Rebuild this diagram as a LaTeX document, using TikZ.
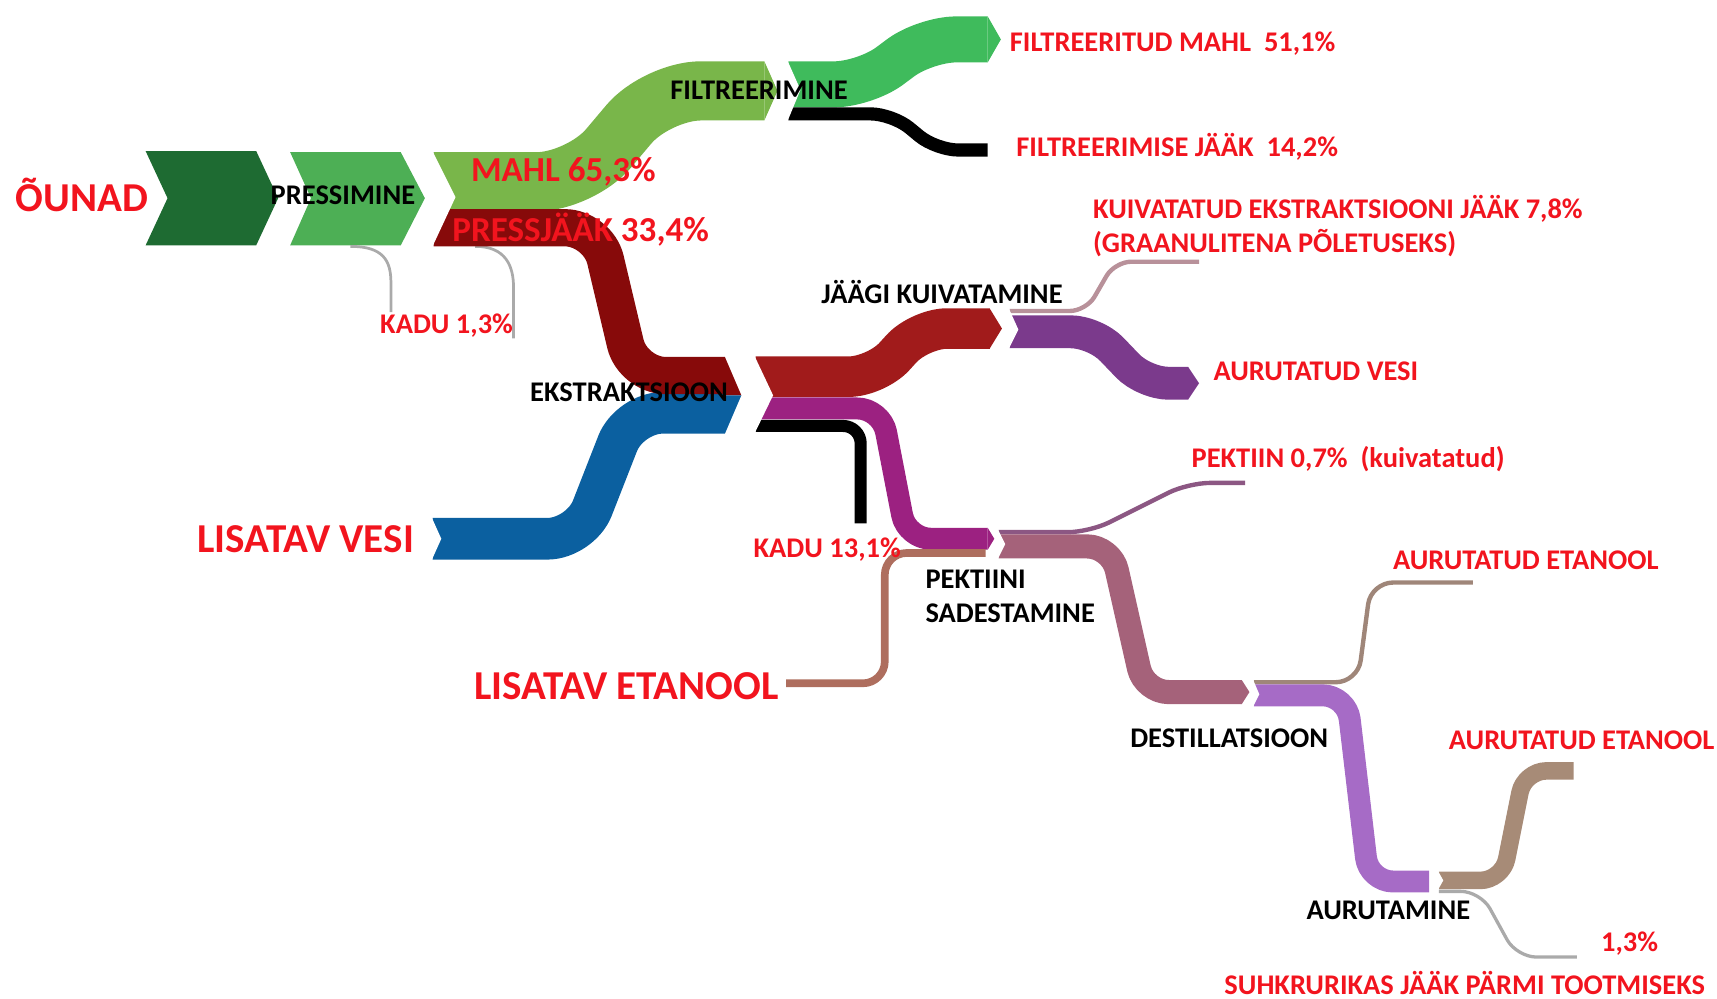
\documentclass[tikz,border=0pt]{standalone}
\usepackage{fontspec}
\setmainfont{Carlito}
\usetikzlibrary{positioning}

\definecolor{cApple}{HTML}{1E6B32}
\definecolor{cPress}{HTML}{4DAF55}
\definecolor{cJuice}{HTML}{79B64A}
\definecolor{cFiltered}{HTML}{3FBB5C}
\definecolor{cPomace}{HTML}{870A0A}
\definecolor{cWater}{HTML}{0B60A0}
\definecolor{cDry}{HTML}{A11B1B}
\definecolor{cVapour}{HTML}{7B3A8C}
\definecolor{cResidue}{HTML}{B8919A}
\definecolor{cPectin}{HTML}{9C2181}
\definecolor{cPectinLine}{HTML}{8C5783}
\definecolor{cSediment}{HTML}{A5627A}
\definecolor{cEthanol}{HTML}{AE6E5E}
\definecolor{cDistil}{HTML}{A66BC6}
\definecolor{cEvapLine}{HTML}{9F8679}
\definecolor{cTan}{HTML}{A78B77}
\definecolor{cGrey}{HTML}{AAAAAA}
\definecolor{txtred}{HTML}{F2141E}

\tikzset{
  flow/.style={line width=#1, line cap=butt, line join=round},
  thinline/.style={draw=cGrey, line width=2.5pt},
  steplbl/.style={font=\bfseries\fontsize{26}{31}\selectfont, text=black, inner sep=0pt, anchor=west},
  outlbl/.style={font=\bfseries\fontsize{26}{31}\selectfont, text=txtred, inner sep=0pt, anchor=west},
  midlbl/.style={font=\bfseries\fontsize{32}{36}\selectfont, text=txtred, inner sep=0pt, anchor=west},
  biglbl/.style={font=\bfseries\fontsize{37.5}{42}\selectfont, text=txtred, inner sep=0pt, anchor=west},
}

\begin{document}
\begin{tikzpicture}[x=1pt,y=-1pt]
\useasboundingbox (0,0) rectangle (1568,912);

% apples and pressing
\fill[cApple] (133,138) -- (234,138) -- (254,181) -- (234,224) -- (133,224) -- (153,181) -- cycle;
\fill[cPress] (265,139) -- (366,139) -- (388,181) -- (366,224) -- (265,224) -- (284,181) -- cycle;
\draw[thinline] (320,225) .. controls (350,225) and (357,238) .. (357,258) -- (357,285);
\draw[thinline] (434,225) .. controls (462,225) and (469,243) .. (469,263) -- (469,309);

% juice, filtering
\draw[flow=54, cJuice, rounded corners=40] (396,166) -- (530,166) -- (600,83) -- (698,83);
\fill[cJuice] (698,56) -- (710,83) -- (698,110) -- cycle;
\draw[flow=42, cFiltered, rounded corners=28] (720,77) -- (790,77) -- (845,36) -- (902,36);
\fill[cFiltered] (902,15) -- (914,36) -- (902,57) -- cycle;
\draw[flow=12, black, rounded corners=20] (720,104) -- (815,104) -- (855,137) -- (902,137);
\fill[white] (719,55) -- (731,82) -- (719,111) -- cycle;

% pomace and water into extraction
\draw[flow=38, cWater, rounded corners=30] (395,492) -- (530,492) -- (575,377) -- (662,377);
\draw[flow=34, cPomace, rounded corners=30] (396,208) -- (546,208) -- (578,343) -- (662,343);
\fill[cPomace] (662,326) -- (677,361) -- (662,361) -- cycle;
\fill[cWater] (662,361) -- (677,361) -- (662,396) -- cycle;
\fill[white] (395,138) -- (416,180) -- (395,225) -- cycle;
\fill[white] (394,472) -- (403,492) -- (394,512) -- cycle;

% extraction outputs
\draw[flow=37, cDry, rounded corners=25] (690,344) -- (800,344) -- (840,300) -- (904,300);
\fill[cDry] (904,282) -- (915,300) -- (904,318) -- cycle;
\draw[flow=20, cPectin, rounded corners=22] (690,373) -- (805,373) -- (828,492) -- (902,492);
\fill[cPectin] (902,482) -- (908,492) -- (902,502) -- cycle;
\draw[flow=11, black, rounded corners=16] (690,389) -- (786,389) -- (786,478);
\fill[white] (689,325) -- (706,361) -- (689,396) -- cycle;

% drying
\draw[flow=4, cResidue, rounded corners=15] (922,284) -- (992,284) -- (1018,239) -- (1095,239);
\draw[flow=30, cVapour, rounded corners=22] (922,303) -- (1000,303) -- (1045,350) -- (1085,350);
\fill[cVapour] (1085,335) -- (1095,350) -- (1085,365) -- cycle;
\fill[white] (921,281) -- (930,301) -- (921,319) -- cycle;

% ethanol, precipitation
\draw[flow=7, cEthanol, rounded corners=20] (718,624) -- (808,624) -- (808,505) -- (900,505);
\draw[flow=4, cPectinLine, rounded corners=20] (912,486) -- (995,486) -- (1085,441) -- (1137,441);
\draw[flow=22, cSediment, rounded corners=22] (912,499) -- (1015,499) -- (1045,632) -- (1134,632);
\fill[cSediment] (1134,621) -- (1141,632) -- (1134,643) -- cycle;
\fill[white] (911,483) -- (918,497) -- (911,511) -- cycle;

% distillation
\draw[flow=4, cEvapLine, rounded corners=20] (1145,623) -- (1240,623) -- (1252,532) -- (1345,532);
\draw[flow=20, cDistil, rounded corners=22] (1145,635) -- (1230,635) -- (1250,805) -- (1305,805);
\fill[white] (1144,620) -- (1150,634) -- (1144,646) -- cycle;

% evaporation
\draw[flow=3, cGrey, rounded corners=18] (1314,814) -- (1352,814) -- (1385,874) -- (1440,874);
\draw[flow=16, cTan, rounded corners=20] (1314,804) -- (1372,804) -- (1392,704) -- (1437,704);
\fill[white] (1313,795) -- (1318,804) -- (1313,813) -- cycle;

% labels
\node[biglbl] (ounad) at (14,178) {ÕUNAD};
\node[steplbl] (press) at (247,178) {PRESSIMINE};
\node[midlbl] (mahl) at (430,157) {MAHL 65,3\%};
\node[midlbl] (pressjaak) at (413,210) {PRESSJÄÄK 33,4\%};
\node[outlbl] (kadu1) at (347,297) {KADU 1,3\%};
\node[steplbl] (filter) at (612,82) {FILTREERIMINE};
\node[outlbl] (filtmahl) at (922,40) {FILTREERITUD MAHL\ \ 51,1\%};
\node[outlbl] (filtjaak) at (928,134) {FILTREERIMISE JÄÄK\ \ 14,2\%};
\node[steplbl] (ekstr) at (484,358) {EKSTRAKTSIOON};
\node[biglbl] (vesi) at (180,492) {LISATAV VESI};
\node[steplbl] (kuiv) at (750,267) {JÄÄGI KUIVATAMINE};
\node[outlbl] (kuivjaak) at (998,191) {KUIVATATUD EKSTRAKTSIOONI JÄÄK 7,8\%};
\node[outlbl] (graan) at (998,222) {(GRAANULITENA PÕLETUSEKS)};
\node[outlbl] (aurvesi) at (1108,339) {AURUTATUD VESI};
\node[outlbl] (kadu2) at (688,502) {KADU 13,1\%};
\node[outlbl] (pektiin) at (1088,419) {PEKTIIN 0,7\%\ \ (kuivatatud)};
\node[steplbl, align=left] (sadest) at (845,545) {PEKTIINI\\SADESTAMINE};
\node[biglbl] (etanool) at (433,627) {LISATAV ETANOOL};
\node[outlbl] (auret1) at (1272,512) {AURUTATUD ETANOOL};
\node[steplbl] (destil) at (1032,674) {DESTILLATSIOON};
\node[outlbl] (auret2) at (1323,676) {AURUTATUD ETANOOL};
\node[steplbl] (aurut) at (1193,831) {AURUTAMINE};
\node[outlbl] (protsent) at (1462,862) {1,3\%};
\node[outlbl] (suhkur) at (1118,898) {SUHKRURIKAS JÄÄK PÄRMI TOOTMISEKS};
\end{tikzpicture}
\end{document}
